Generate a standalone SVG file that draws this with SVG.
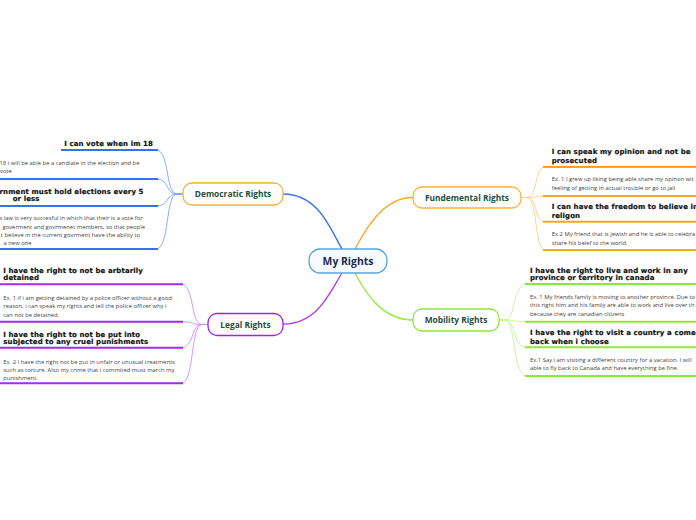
<svg xmlns="http://www.w3.org/2000/svg" width="696" height="520" viewBox="0 0 696 520">
<style>
.t{font-family:"DejaVu Sans","Liberation Sans",sans-serif;font-weight:bold;font-size:7px;fill:#111;stroke:#111;stroke-width:0.18;letter-spacing:0.1px}
.b{font-family:"Open Sans","Noto Sans",sans-serif;font-size:5.85px;fill:#444}
.n{font-family:"Open Sans","Noto Sans",sans-serif;font-weight:700;font-size:8.4px;fill:#1f4d3d;text-anchor:middle}
.c{font-family:"Open Sans","Noto Sans",sans-serif;font-weight:700;font-size:10.4px;fill:#1c2a4f;text-anchor:middle}
.box{fill:#fff;stroke-width:1.3}
.ul{fill:none;stroke-width:2}
.cv{fill:none;stroke-width:0.9}
.mc{fill:none;stroke-width:1.4}
</style>
<rect width="696" height="520" fill="#fff"/>
<g id="connectors">
<path class="mc" stroke="#3b73f0" d="M283,194 C318,194 330,228 342,249"/>
<path class="mc" stroke="#f9a830" d="M355,249 C367,226 385,197 413,197.5"/>
<path class="mc" stroke="#b040ee" d="M283,324 C318,324 330,292 342,273"/>
<path class="mc" stroke="#90ee40" d="M355,273 C368,298 385,320 413,320"/>
<g stroke="#7aa4f7">
<path class="cv" d="M183,194 L177,194 C165,194 170,150 156,150"/>
<path class="cv" d="M183,194 L177,194 C165,194 170,179 156,179"/>
<path class="cv" d="M183,194 L177,194 C165,194 170,206 156,206"/>
<path class="cv" d="M183,194 L177,194 C165,194 170,249 156,249"/>
</g>
<g stroke="#3b6ef2">
<path class="ul" d="M61,150 H158"/>
<path class="ul" d="M0,179 H158"/>
<path class="ul" d="M0,206 H158"/>
<path class="ul" d="M0,249 H158"/>
</g>
<g stroke="#d08cf5">
<path class="cv" d="M208,324.5 L202,324.5 C190,324.5 195,284.3 181,284.3"/>
<path class="cv" d="M208,324.5 L202,324.5 C190,324.5 195,321.7 181,321.7"/>
<path class="cv" d="M208,324.5 L202,324.5 C190,324.5 195,347.7 181,347.7"/>
<path class="cv" d="M208,324.5 L202,324.5 C190,324.5 195,383.3 181,383.3"/>
</g>
<g stroke="#a52bea">
<path class="ul" d="M0,284.3 H183"/>
<path class="ul" d="M0,321.7 H183"/>
<path class="ul" d="M0,347.7 H183"/>
<path class="ul" d="M0,383.3 H183"/>
</g>
<g stroke="#fccf85">
<path class="cv" d="M521,197.5 L527,197.5 C538,197.5 534,167 545,167"/>
<path class="cv" d="M521,197.5 L527,197.5 C538,197.5 534,196 545,196"/>
<path class="cv" d="M521,197.5 L527,197.5 C538,197.5 534,221.7 545,221.7"/>
<path class="cv" d="M521,197.5 L527,197.5 C538,197.5 534,250 545,250"/>
</g>
<g stroke="#f7a428">
<path class="ul" d="M543,167 H696"/>
<path class="ul" d="M543,196 H696"/>
<path class="ul" d="M543,221.7 H696"/>
<path class="ul" d="M543,250 H696"/>
</g>
<g stroke="#c2f590">
<path class="cv" d="M499,320 L505,320 C516,320 512,284 527,284"/>
<path class="cv" d="M499,320 L505,320 C516,320 512,321.7 527,321.7"/>
<path class="cv" d="M499,320 L505,320 C516,320 512,347.3 527,347.3"/>
<path class="cv" d="M499,320 L505,320 C516,320 512,376 527,376"/>
</g>
<g stroke="#8ee83a">
<path class="ul" d="M525,284 H696"/>
<path class="ul" d="M525,321.7 H696"/>
<path class="ul" d="M525,347.3 H696"/>
<path class="ul" d="M525,376 H696"/>
</g>
</g>
<g id="central">
<rect x="309" y="249" width="78" height="24" rx="11" fill="#f6fbff" stroke="#5da5dc" stroke-width="1.3"/>
<text class="c" x="348" y="264.8">My Rights</text>
</g>
<g id="democratic">
<rect class="box" x="183" y="183" width="100" height="22" rx="9" stroke="#f8b040"/>
<text class="n" x="233" y="197">Democratic Rights</text>
</g>
<g id="legal">
<rect class="box" x="208" y="313.5" width="75" height="22" rx="9" stroke="#a020f0"/>
<text class="n" x="245.5" y="327.5">Legal Rights</text>
</g>
<g id="fundemental">
<rect class="box" x="413" y="187" width="108" height="21" rx="9" stroke="#f8b040"/>
<text class="n" x="467" y="200.5">Fundemental Rights</text>
</g>
<g id="mobility">
<rect class="box" x="413" y="309" width="86" height="22" rx="9" stroke="#8fe93a"/>
<text class="n" x="456" y="323">Mobility Rights</text>
</g>
<g id="dem-1"><text class="t" x="153" y="145.8" text-anchor="end">I can vote when im 18</text></g>
<g id="dem-2"><text class="b" x="-0.5" y="165.3">18 i will be able be a candiate in the election and be</text><text class="b" x="0" y="173.3">vote</text></g>
<g id="dem-3"><text class="t" x="-0.5" y="193.5">rnment must hold elections every 5</text><text class="t" x="12.7" y="200.8">or less</text></g>
<g id="dem-4"><text class="b" x="-0.5" y="220.3">s law is very succesful in which that their is a vote for</text><text class="b" x="2.5" y="228.6">goverment and govrmenet members, so that people</text><text class="b" x="0.8" y="236.9">t believe in the current govrment have the ability to</text><text class="b" x="3.5" y="245.2">a new one</text></g>
<g id="legal-1"><text class="t" x="3.3" y="272.5">I have the right to not be arbtarily</text><text class="t" x="3.3" y="280.2">detained</text></g>
<g id="legal-2"><text class="b" x="3.3" y="299.7">Ex. 1 if i am getting detained by a police officer without a good</text><text class="b" x="3.3" y="308.2">reason, i can speak my rights and tell the police officer why i</text><text class="b" x="3.3" y="316.7">can not be detained.</text></g>
<g id="legal-3"><text class="t" x="3.3" y="336.8">I have the right to not be put into</text><text class="t" x="3.3" y="343.5">subjected to any cruel punishments</text></g>
<g id="legal-4"><text class="b" x="3.3" y="363.7">Ex. 2 I have the right not be put in unfair or unusual treatments</text><text class="b" x="3.3" y="372">such as torture. Also my crime that i commited must march my</text><text class="b" x="3.3" y="380.3">punishment.</text></g>
<g id="fund-1"><text class="t" x="551.7" y="154.2">I can speak my opinion and not be</text><text class="t" x="551.7" y="162.5">prosecuted</text></g>
<g id="fund-2"><text class="b" x="551.7" y="181.3">Ex. 1 I grew up liking being able share my opinon wit</text><text class="b" x="551.7" y="189.7">feeling of getting in actual trouble or go to jail</text></g>
<g id="fund-3"><text class="t" x="551.7" y="209.2">I can have the freedom to believe in</text><text class="t" x="551.7" y="217.5">religon</text></g>
<g id="fund-4"><text class="b" x="551.7" y="235.7">Ex.2 My friend that is jewish and he is able to celebra</text><text class="b" x="551.7" y="244.5">share his belef to the world.</text></g>
<g id="mob-1"><text class="t" x="530" y="272.5">I have the right to live and work in any</text><text class="t" x="530" y="279.8">province or territory in canada</text></g>
<g id="mob-2"><text class="b" x="530" y="298.7">Ex. 1 My friends family is moving to another province. Due to</text><text class="b" x="530" y="307.3">this right him and his family are able to work and live over th</text><text class="b" x="530" y="316">because they are canadian citizens</text></g>
<g id="mob-3"><text class="t" x="530" y="335.2">I have the right to visit a country a come</text><text class="t" x="530" y="343.5">back when i choose</text></g>
<g id="mob-4"><text class="b" x="530" y="362">Ex.1 Say i am visiting a different country for a vacation. I will</text><text class="b" x="530" y="370.3">able to fly back to Canada and have everything be fine.</text></g>
</svg>
